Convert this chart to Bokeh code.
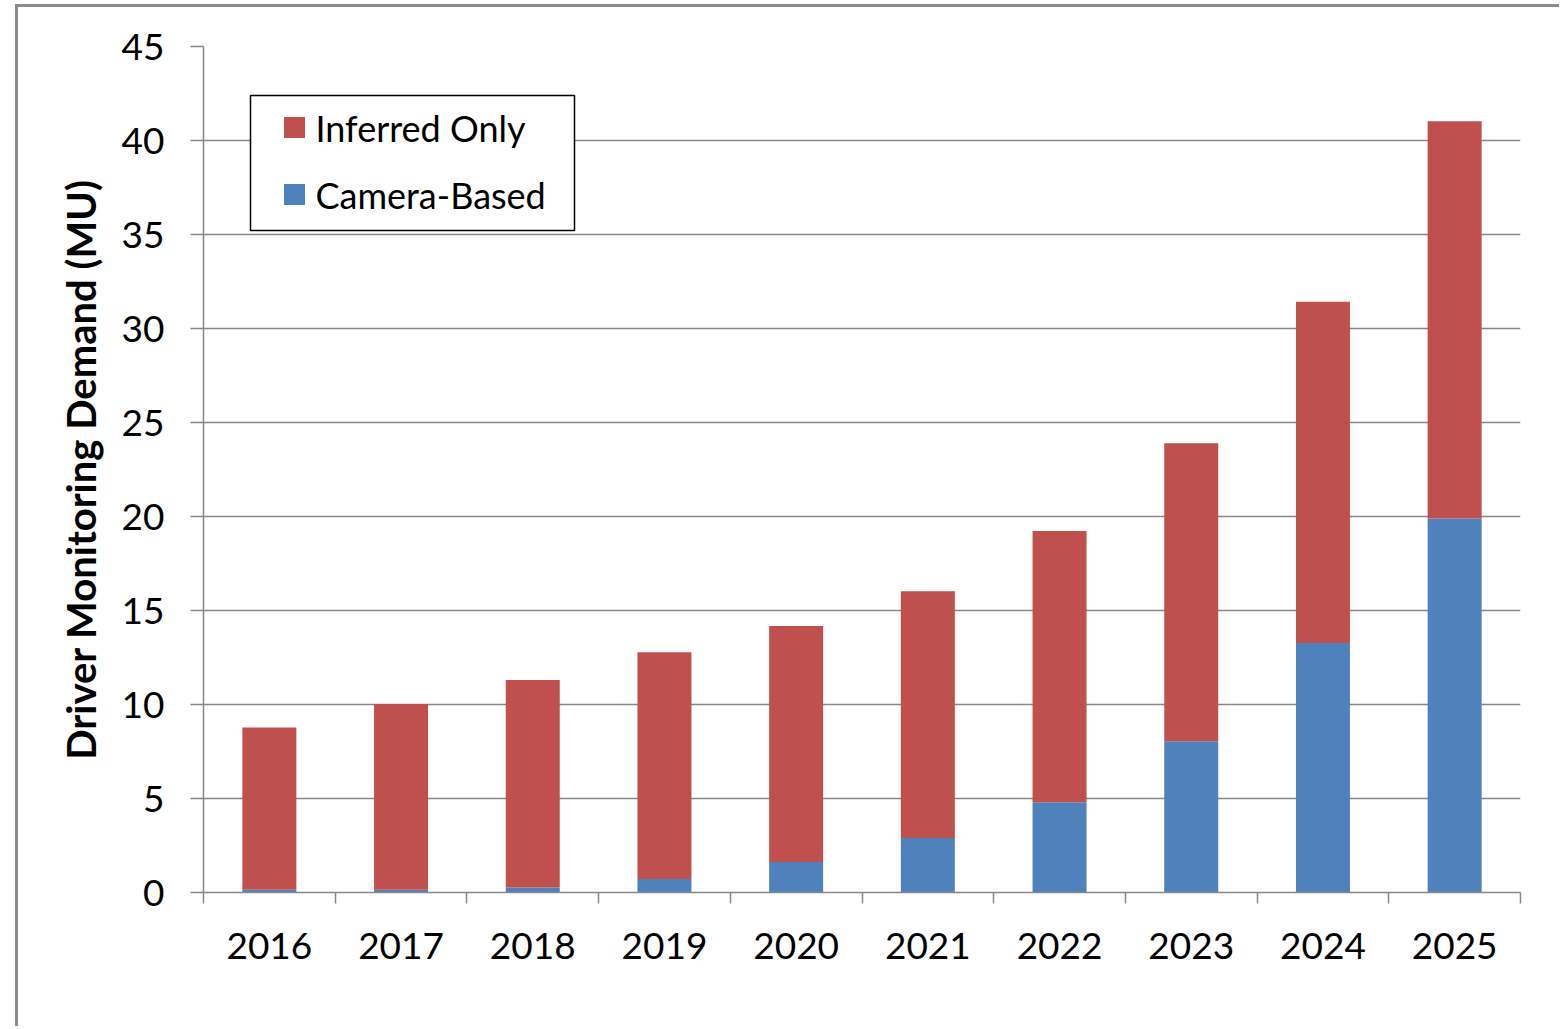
from bokeh.plotting import figure
from bokeh.models import ColumnDataSource, FixedTicker, Range1d, BoxAnnotation
from bokeh.core.properties import value
from bokeh.embed import file_html
from bokeh.resources import INLINE

years = ["2016", "2017", "2018", "2019", "2020", "2021", "2022", "2023", "2024", "2025"]
camera_based = [0.15, 0.15, 0.27, 0.72, 1.62, 2.9, 4.8, 8.05, 13.27, 19.9]
inferred_only = [8.63, 9.87, 11.03, 12.06, 12.55, 13.13, 14.43, 15.85, 18.15, 21.13]
y_ticks = [0, 5, 10, 15, 20, 25, 30, 35, 40, 45]
series_names = ["Inferred Only", "Camera-Based"]

RED = "#C0504D"
BLUE = "#4F81BD"
GRID = "#878787"
FONT = "Lato"

# frame geometry in screen pixels (used to place the legend box)
FRAME_W, FRAME_H = 1317, 846
Y_MAX = 45
PX_X = len(years) / FRAME_W
PX_Y = Y_MAX / FRAME_H

xpos = [i + 0.5 for i in range(len(years))]
source = ColumnDataSource(dict(x=xpos, camera=camera_based, inferred=inferred_only))

p = figure(width=1544, height=1022, output_backend="svg", toolbar_location=None,
           x_range=Range1d(0, len(years)), y_range=Range1d(0, Y_MAX),
           min_border_left=185, min_border_right=42, min_border_top=39, min_border_bottom=137)
p.outline_line_color = None
p.styles = {"border-left": "3px solid #8c8c8c", "border-top": "3px solid #8c8c8c",
            "margin-left": "15px", "margin-top": "4px"}

r = p.vbar_stack(["camera", "inferred"], x="x", width=0.41, source=source,
                 color=[BLUE, RED], line_color=None)

# x axis
p.xaxis.ticker = FixedTicker(ticks=xpos, minor_ticks=list(range(len(years) + 1)))
p.xaxis.major_label_overrides = {x: y for x, y in zip(xpos, years)}
p.xaxis.major_tick_line_color = None
p.xaxis.major_tick_out = 0
p.xaxis.major_tick_in = 0
p.xaxis.minor_tick_out = 11
p.xaxis.minor_tick_in = 0
p.xaxis.minor_tick_line_color = GRID
p.xaxis.minor_tick_line_width = 1.5
p.xaxis.axis_line_color = GRID
p.xaxis.axis_line_width = 1.5
p.xaxis.major_label_text_font = FONT
p.xaxis.major_label_text_font_size = "37px"
p.xaxis.major_label_text_color = "#000000"
p.xaxis.major_label_standoff = 29

# y axis
p.yaxis.ticker = FixedTicker(ticks=y_ticks)
p.yaxis.minor_tick_line_color = None
p.yaxis.major_tick_out = 13
p.yaxis.major_tick_in = 0
p.yaxis.major_tick_line_color = GRID
p.yaxis.major_tick_line_width = 1.5
p.yaxis.axis_line_color = GRID
p.yaxis.axis_line_width = 1.5
p.yaxis.major_label_text_font = FONT
p.yaxis.major_label_text_font_size = "37px"
p.yaxis.major_label_text_color = "#000000"
p.yaxis.major_label_standoff = 26
p.yaxis.axis_label = "Driver Monitoring Demand (MU)"
p.yaxis.axis_label_text_font = FONT
p.yaxis.axis_label_text_font_size = "40px"
p.yaxis.axis_label_text_font_style = "bold"
p.yaxis.axis_label_text_color = "#000000"
p.yaxis.axis_label_standoff = 14

p.xgrid.grid_line_color = None
p.ygrid.grid_line_color = GRID
p.ygrid.grid_line_width = 1.5

# legend (drawn by hand so the box matches the original)
def sx(px):
    return px * PX_X

def sy(px):
    return Y_MAX - px * PX_Y

box = BoxAnnotation(left=sx(47), right=sx(371), top=sy(49), bottom=sy(184),
                    fill_color="white", fill_alpha=1.0,
                    line_color="black", line_alpha=1.0, line_width=1.5, level="underlay")
p.add_layout(box)

leg_src = ColumnDataSource(dict(
    x=[sx(91), sx(91)], y=[sy(81), sy(148)], tx=[sx(112), sx(112)],
    label=series_names, color=[RED, BLUE]))
p.scatter(x="x", y="y", marker="square", size=21, color="color", line_color=None, source=leg_src)
p.text(x="tx", y="y", text="label", source=leg_src, text_font=value(FONT),
       text_font_size="36px", text_baseline="middle", text_align="left", text_color="black")

open("out.html", "w").write(file_html(p, INLINE))
